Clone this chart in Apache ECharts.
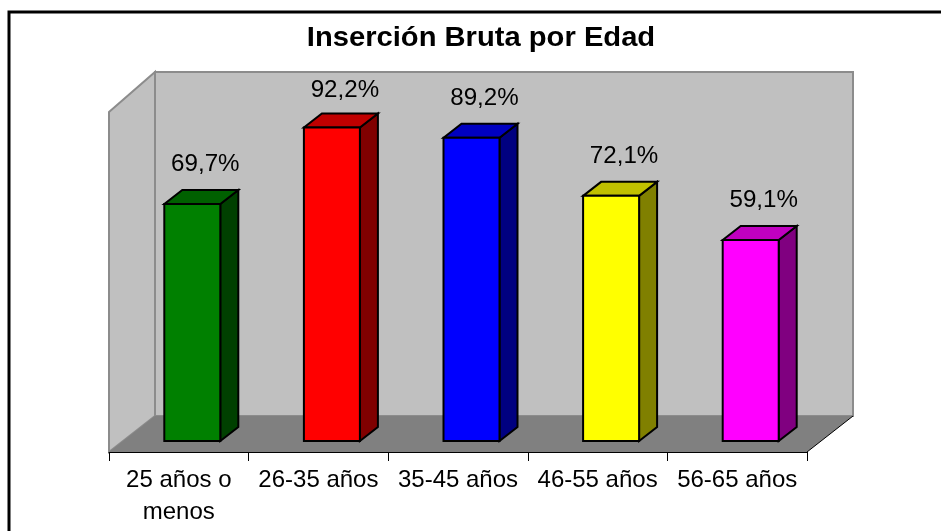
<!DOCTYPE html>
<html><head><meta charset="utf-8">
<style>html,body{margin:0;padding:0;background:#fff;overflow:hidden}#c{width:941px;height:531px}</style>
<script src="https://cdn.jsdelivr.net/npm/echarts@6/dist/echarts.min.js"></script>
</head><body><div id="c"></div>
<script>
const titleText = 'Inserción Bruta por Edad';
const categories = ['25 años o\nmenos', '26-35 años', '35-45 años', '46-55 años', '56-65 años'];
const values = [69.7, 92.2, 89.2, 72.1, 59.1];
const valueLabels = ['69,7%', '92,2%', '89,2%', '72,1%', '59,1%'];
const frontColors = ['#008000', '#ff0000', '#0000ff', '#ffff00', '#ff00ff'];
const topColors = ['#006000', '#c00000', '#0000c0', '#c0c000', '#c000c0'];
const sideColors = ['#004000', '#800000', '#000080', '#808000', '#800080'];
const FONT = '"Liberation Sans", Arial, sans-serif';
const BAR_DX = 18, BAR_DY = 14, BAR_W = 56, BAR_SHIFT = 13.5;
const WALL_DX = 46, WALL_DY = 36, FLOOR_DROP = 11, LEFT_RISE = 29;
const poly = (pts, fill, stroke, lw) => ({
  type: 'polygon', shape: { points: pts },
  style: { fill, stroke: stroke || 'none', lineWidth: lw || 0, lineJoin: 'miter' }
});
function renderFrame(p, api) {
  const band = api.size([1, 0])[0];
  const l = api.coord([0, 0])[0] - band / 2;
  const r = api.coord([4, 0])[0] + band / 2;
  const y0 = api.coord([0, 0])[1] + FLOOR_DROP;
  const yTop = api.coord([0, 100])[1];
  const bl = l + WALL_DX, br = r + WALL_DX, by = y0 - WALL_DY, bt = yTop - LEFT_RISE;
  const grey = '#8c8c8c';
  return { type: 'group', children: [
    poly([[bl, bt], [br, bt], [br, by], [bl, by]], '#c0c0c0', grey, 2),
    poly([[l, yTop + 11], [bl, bt], [bl, by], [l, y0]], '#c0c0c0', grey, 2),
    poly([[l, y0], [bl, by], [br, by], [r, y0]], '#808080'),
    { type: 'polyline', shape: { points: [[r, y0], [br, by]] }, style: { stroke: '#000', lineWidth: 1, fill: 'none' } }
  ] };
}
function renderBar(p, api) {
  const i = api.value(0), v = api.value(1);
  const [cx, yt] = api.coord([i, v]);
  const yb = api.coord([i, 0])[1];
  const x0 = cx + BAR_SHIFT - BAR_W / 2, x1 = x0 + BAR_W;
  const dx = BAR_DX, dy = BAR_DY;
  const plotTop = api.coord([i, 100])[1] - LEFT_RISE;
  const labelY = Math.max(plotTop + 16, yt - 42);
  return { type: 'group', children: [
    poly([[x1, yt], [x1 + dx, yt - dy], [x1 + dx, yb - dy], [x1, yb]], sideColors[i], '#000', 2),
    poly([[x0, yt], [x0 + dx, yt - dy], [x1 + dx, yt - dy], [x1, yt]], topColors[i], '#000', 2),
    poly([[x0, yt], [x1, yt], [x1, yb], [x0, yb]], frontColors[i], '#000', 2),
    { type: 'text', x: cx + BAR_SHIFT + 13, y: labelY + 3, scaleX: 1.05,
      style: { text: valueLabels[i], x: 0, y: 0, align: 'center', verticalAlign: 'middle', font: '23px ' + FONT, fill: '#000' } }
  ] };
}
const chart = echarts.init(document.getElementById('c'), null, { renderer: 'canvas' });
chart.setOption({
  animation: false,
  backgroundColor: '#fff',
  grid: { left: 109, top: 101, width: 698, height: 340 },
  xAxis: { type: 'category', data: categories, offset: 11, z: 10,
    axisLine: { onZero: false, lineStyle: { color: '#000', width: 1 } },
    axisTick: { show: true, alignWithLabel: false, length: 9, lineStyle: { color: '#000' } },
    axisLabel: { fontFamily: FONT, fontSize: 24, color: '#000', margin: 12, lineHeight: 32, interval: 0 } },
  yAxis: { type: 'value', min: 0, max: 100, show: false, splitLine: { show: false } },
  graphic: [
    { type: 'rect', shape: { x: 9, y: 12, width: 1000, height: 1000 }, style: { fill: 'none', stroke: '#000', lineWidth: 3 }, z: 100 },
    { type: 'text', x: 481, y: 39, scaleX: 1.08, z: 100,
      style: { text: titleText, x: 0, y: 0, align: 'center', verticalAlign: 'middle', font: 'bold 27px ' + FONT, fill: '#000' } }
  ],
  series: [
    { type: 'custom', data: [[0, 0]], renderItem: renderFrame, z: 1, silent: true, clip: false },
    { type: 'custom', data: values.map((v, i) => [i, v]), renderItem: renderBar, z: 2, clip: false, encode: { x: 0, y: 1 } }
  ]
});
</script></body></html>
